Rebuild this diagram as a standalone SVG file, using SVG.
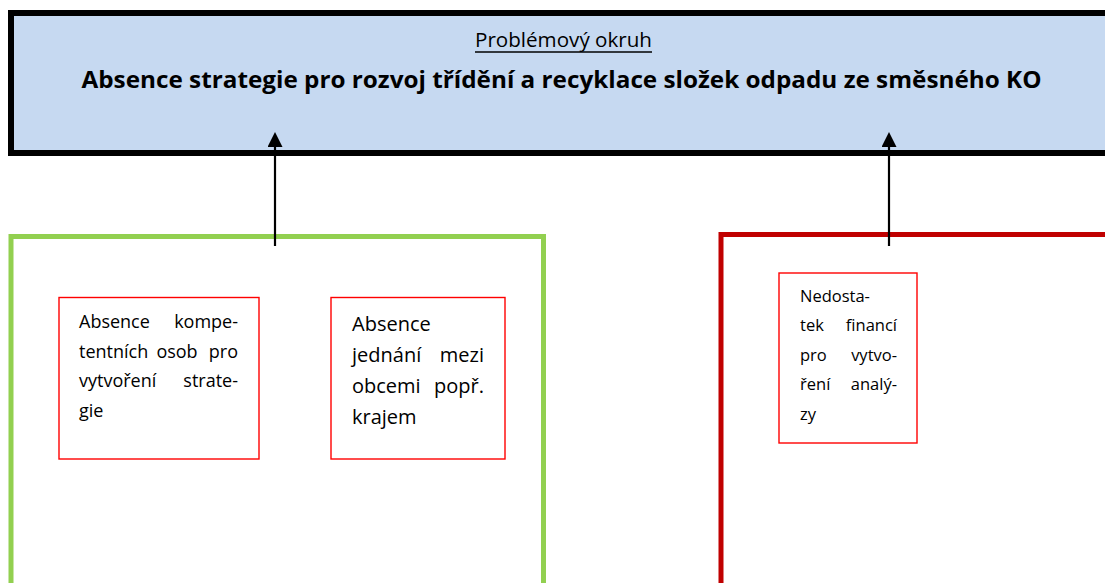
<svg xmlns="http://www.w3.org/2000/svg" width="1105" height="583" viewBox="0 0 1105 583">
  <defs>
    <marker id="arrow" viewBox="0 0 15 15" refX="7" refY="7.5" markerWidth="15" markerHeight="15" markerUnits="userSpaceOnUse" orient="auto">
      <path d="M0,0 L15,7.5 L0,15 Z" fill="#000"/>
    </marker>
  </defs>
  <style>
    .t { font-family: "Open Sans", "Liberation Sans", sans-serif; fill: #000; }
    .small { fill: #fff; stroke: #ff0000; stroke-width: 1.4; }
    .conn { stroke: #000; stroke-width: 2.2; fill: none; }
    .f18 { font-size: 18px; }
    .f20 { font-size: 20px; }
    .f16 { font-size: 16.5px; }
  </style>
  <rect width="1105" height="583" fill="#fff"/>

  <g id="problem">
    <rect x="11" y="13" width="1104" height="140" fill="#c6d9f1" stroke="#000" stroke-width="6"/>
    <text class="t" x="475" y="47" font-size="20" textLength="177" lengthAdjust="spacingAndGlyphs">Problémový okruh</text>
    <line x1="475" y1="52" x2="652" y2="52" stroke="#000" stroke-width="1.3"/>
    <text class="t" x="81.5" y="88" font-size="23.5" font-weight="bold" textLength="960" lengthAdjust="spacingAndGlyphs">Absence strategie pro rozvoj třídění a recyklace složek odpadu ze směsného KO</text>
  </g>

  <g id="group-green">
    <rect x="11" y="236.5" width="532.5" height="360" fill="none" stroke="#92d050" stroke-width="5"/>
  </g>

  <g id="group-red">
    <rect x="721" y="234.5" width="400" height="360" fill="none" stroke="#c00000" stroke-width="5"/>
  </g>

  <g id="cause1">
    <rect class="small" x="59" y="297.5" width="200" height="161.5"/>
    <text class="t f18" x="79" y="328">Absence</text>
    <text class="t f18" x="238" y="328" text-anchor="end">kompe-</text>
    <text class="t f18" x="79" y="357.5">tentních</text>
    <text class="t f18" x="177" y="357.5" text-anchor="middle">osob</text>
    <text class="t f18" x="238" y="357.5" text-anchor="end">pro</text>
    <text class="t f18" x="79" y="387">vytvoření</text>
    <text class="t f18" x="238" y="387" text-anchor="end">strate-</text>
    <text class="t f18" x="79" y="416.5">gie</text>
  </g>

  <g id="cause2">
    <rect class="small" x="331" y="297.5" width="174" height="161.5"/>
    <text class="t f20" x="352" y="331">Absence</text>
    <text class="t f20" x="352" y="362">jednání</text>
    <text class="t f20" x="484" y="362" text-anchor="end">mezi</text>
    <text class="t f20" x="352" y="393">obcemi</text>
    <text class="t f20" x="484" y="393" text-anchor="end">popř.</text>
    <text class="t f20" x="352" y="424">krajem</text>
  </g>

  <g id="cause3">
    <rect class="small" x="779" y="273" width="138" height="170"/>
    <text class="t f16" x="800" y="302">Nedosta-</text>
    <text class="t f16" x="800" y="331">tek</text>
    <text class="t f16" x="897" y="331" text-anchor="end">financí</text>
    <text class="t f16" x="800" y="360.5">pro</text>
    <text class="t f16" x="897" y="360.5" text-anchor="end">vytvo-</text>
    <text class="t f16" x="800" y="390">ření</text>
    <text class="t f16" x="897" y="390" text-anchor="end">analý-</text>
    <text class="t f16" x="800" y="419.5">zy</text>
  </g>

  <g id="connectors">
    <line class="conn" x1="275" y1="246" x2="275" y2="140" marker-end="url(#arrow)"/>
    <line class="conn" x1="889" y1="246" x2="889" y2="140" marker-end="url(#arrow)"/>
  </g>
</svg>
